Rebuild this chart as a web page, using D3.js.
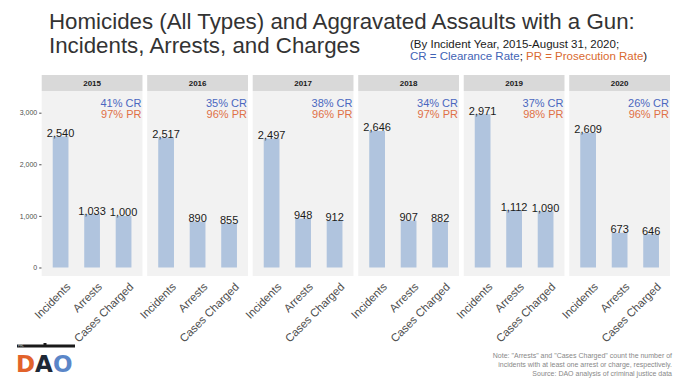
<!DOCTYPE html>
<html lang="en">
<head>
    <meta charset="UTF-8">
    <title>Homicides and Aggravated Assaults with a Gun</title>
    <script src="https://d3js.org/d3.v7.min.js"></script>
    <style>
        body { margin: 0; background: #fff; font-family: "Liberation Sans", Arial, Helvetica, sans-serif; }
        .title { font-size: 22.3px; fill: #333; }
        .sub { font-size: 11.5px; }
        .strip-label { font-size: 8px; font-weight: bold; fill: #1a1a1a; }
        .val { font-size: 11px; fill: #1a1a1a; }
        .rate { font-size: 11px; }
        .ytick text { font-size: 7px; fill: #4d4d4d; }
        .xlab { font-size: 11.3px; fill: #4d4d4d; }
        .note { font-size: 7px; fill: #888; }
    </style>
</head>
<body>
<svg id="chart" width="680" height="383"></svg>
<script>
    // data
    const years = ["2015", "2016", "2017", "2018", "2019", "2020"];
    const categories = ["Incidents", "Arrests", "Cases Charged"];
    const incidents = [2540, 2517, 2497, 2646, 2971, 2609];
    const arrests = [1033, 890, 948, 907, 1112, 673];
    const charged = [1000, 855, 912, 882, 1090, 646];
    const clearance = ["41%", "35%", "38%", "34%", "37%", "26%"];
    const prosecution = ["97%", "96%", "96%", "97%", "98%", "96%"];
    const yTicks = [0, 1000, 2000, 3000];

    const svg = d3.select("#chart");

    const panelTop = 91, panelBottom = 276, stripTop = 75;
    const left = 41.7, right = 670;
    const gap = 4.7;

    const facet = d3.scaleBand()
        .domain(years)
        .range([left, right])
        .paddingInner(gap / ((right - left) / 6));

    const pw = facet.bandwidth();

    const x = d3.scaleBand()
        .domain(categories)
        .range([0, pw])
        .paddingInner(0.5)
        .paddingOuter(0.35);

    const y = d3.scaleLinear()
        .domain([-165, 3420])
        .range([panelBottom, panelTop]);

    // title
    svg.append("text").attr("class", "title").attr("x", 49).attr("y", 29)
        .text("Homicides (All Types) and Aggravated Assaults with a Gun:");
    svg.append("text").attr("class", "title").attr("x", 49).attr("y", 53)
        .text("Incidents, Arrests, and Charges");

    svg.append("text").attr("class", "sub").attr("x", 410).attr("y", 47.5)
        .attr("fill", "#1a1a1a")
        .text("(By Incident Year, 2015-August 31, 2020;");
    const sub2 = svg.append("text").attr("class", "sub").attr("x", 410).attr("y", 59.5);
    sub2.append("tspan").attr("fill", "#3f63b5").text("CR = Clearance Rate");
    sub2.append("tspan").attr("fill", "#1a1a1a").text("; ");
    sub2.append("tspan").attr("fill", "#d9692f").text("PR = Prosecution Rate");
    sub2.append("tspan").attr("fill", "#1a1a1a").text(")");

    // y axis
    const yAxis = svg.append("g")
        .attr("class", "ytick")
        .attr("transform", `translate(${left},0)`)
        .call(d3.axisLeft(y).tickValues(yTicks).tickSize(2.5).tickPadding(2).tickFormat(d3.format(",")));
    yAxis.select(".domain").remove();
    yAxis.selectAll("line").attr("stroke", "#4d4d4d");

    years.forEach((yr, i) => {
        const g = svg.append("g").attr("transform", `translate(${facet(yr)},0)`);
        const vals = [incidents[i], arrests[i], charged[i]];

        g.append("rect")
            .attr("x", 0).attr("y", stripTop)
            .attr("width", pw).attr("height", panelTop - stripTop)
            .attr("fill", "#d9d9d9");
        g.append("text").attr("class", "strip-label")
            .attr("x", pw / 2).attr("y", (stripTop + panelTop) / 2 + 3)
            .attr("text-anchor", "middle").text(yr);

        g.append("rect")
            .attr("x", 0).attr("y", panelTop)
            .attr("width", pw).attr("height", panelBottom - panelTop)
            .attr("fill", "#f2f2f2");

        g.selectAll(".bar").data(vals).enter().append("rect")
            .attr("class", "bar")
            .attr("x", (d, j) => x(categories[j]))
            .attr("width", x.bandwidth())
            .attr("y", d => y(d))
            .attr("height", d => y(0) - y(d))
            .attr("fill", "#b0c4de");

        g.selectAll(".val").data(vals).enter().append("text")
            .attr("class", "val")
            .attr("x", (d, j) => x(categories[j]) + x.bandwidth() / 2)
            .attr("y", d => y(d) + 0.5)
            .attr("text-anchor", "middle")
            .text(d => d3.format(",")(d));

        g.append("text").attr("class", "rate")
            .attr("x", pw - 1).attr("y", 107)
            .attr("text-anchor", "end").attr("fill", "#4a67c0")
            .text(clearance[i] + " CR");
        g.append("text").attr("class", "rate")
            .attr("x", pw - 1).attr("y", 117.5)
            .attr("text-anchor", "end").attr("fill", "#e07046")
            .text(prosecution[i] + " PR");

        g.selectAll(".xlab").data(categories).enter().append("text")
            .attr("class", "xlab")
            .attr("text-anchor", "end")
            .attr("transform", d => `translate(${x(d) + x.bandwidth() / 2 + 5},${panelBottom + 6}) rotate(-45)`)
            .attr("dy", "0.7em")
            .text(d => d);
    });

    // logo
    const logo = svg.append("g");
    logo.append("rect").attr("x", 17).attr("y", 344.5).attr("width", 58).attr("height", 3).attr("fill", "#1a1a1a");
    logo.append("rect").attr("x", 43.5).attr("y", 343).attr("width", 3).attr("height", 2).attr("fill", "#1a1a1a");
    logo.append("text").attr("x", 18).attr("y", 347).attr("font-size", 3).attr("fill", "#ccc").text("PHL");
    const dao = logo.append("text")
        .attr("x", 16).attr("y", 371.5)
        .attr("font-family", "DejaVu Sans")
        .attr("font-size", 23).attr("font-weight", "bold");
    dao.append("tspan").attr("fill", "#e2622b").text("D");
    dao.append("tspan").attr("fill", "#1e2836").text("A");
    dao.append("tspan").attr("fill", "#5b86c8").text("O");

    // footnote
    const notes = [
        "Note: \"Arrests\" and \"Cases Charged\" count the number of",
        "incidents with at least one arrest or charge, respectively.",
        "Source: DAO analysis of criminal justice data"
    ];
    svg.selectAll(".note").data(notes).enter().append("text")
        .attr("class", "note")
        .attr("x", 672).attr("y", (d, i) => 358 + i * 9)
        .attr("text-anchor", "end")
        .text(d => d);
</script>
</body>
</html>
